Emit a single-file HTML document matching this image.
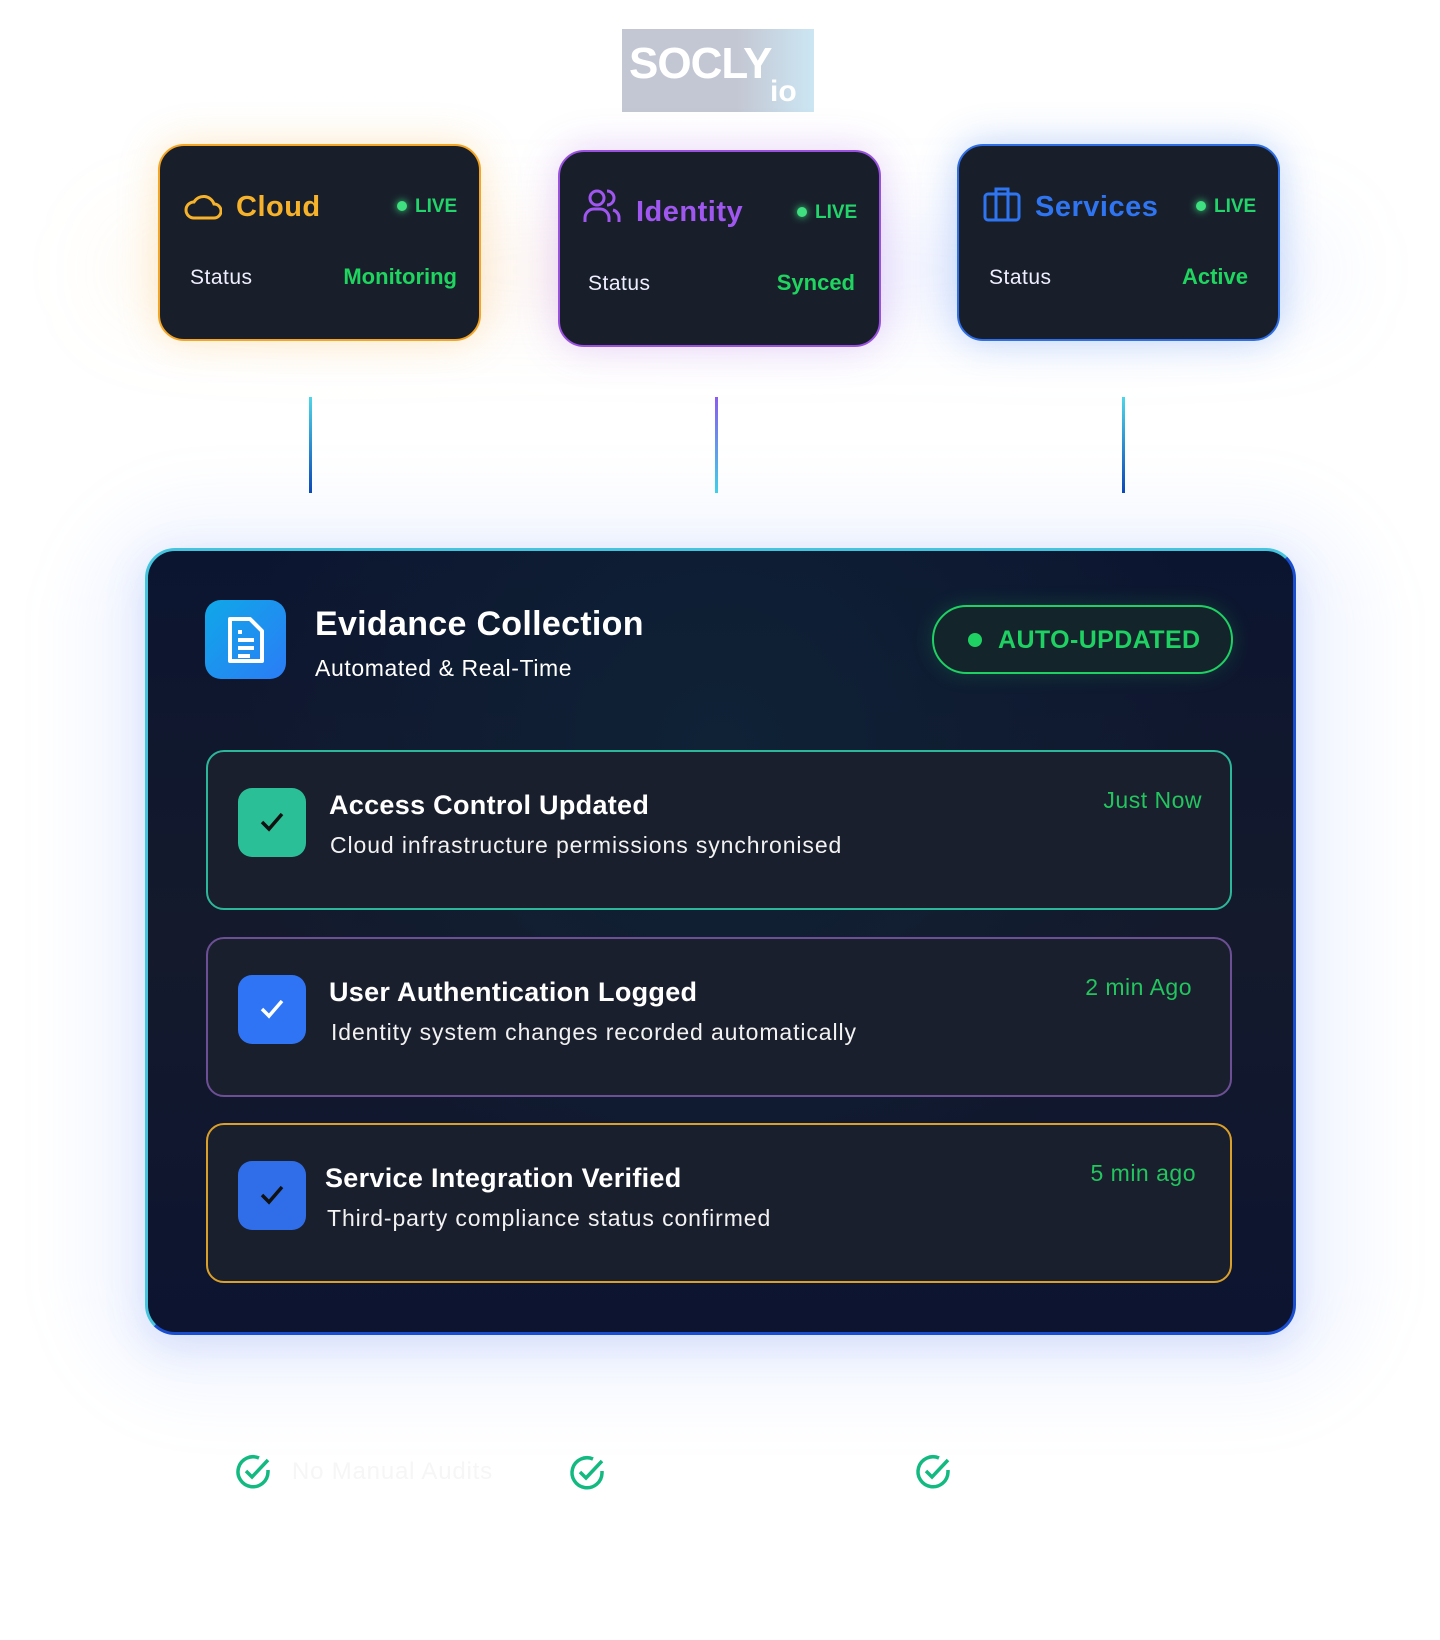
<!DOCTYPE html>
<html><head><meta charset="utf-8"><style>
*{margin:0;padding:0;box-sizing:border-box}
body{width:1440px;height:1640px;background:#fff;position:relative;overflow:hidden;font-family:"Liberation Sans",sans-serif}
.a{position:absolute}
.card{position:absolute;width:323px;height:197px;background:#181f2b;border:2px solid;border-radius:26px}
.t{position:absolute;white-space:nowrap;line-height:1}
.live{font-size:19px;font-weight:bold;color:#22d46a}
.dot{position:absolute;width:10px;height:10px;border-radius:50%;background:#3ee07f;box-shadow:0 0 8px #3ee07f}
.st{font-size:21px;color:#eef;letter-spacing:.5px}
.sv{font-size:22px;font-weight:bold;color:#1fd45f}
.row{position:absolute;left:206px;width:1026px;height:160px;border:2px solid;border-radius:18px;background:#1a1f2d}
.cb{position:absolute;width:68px;height:69px;border-radius:14px;left:30px}
.rt{font-size:27px;font-weight:bold;color:#fff;letter-spacing:.3px}
.rd{font-size:23px;color:#f2f2f2;letter-spacing:.9px}
.tm{font-size:23px;color:#22c55e;letter-spacing:.5px}
</style></head><body>
<div class="a" style="left:100px;top:110px;width:1240px;height:320px;border-radius:160px;filter:blur(40px);background:radial-gradient(ellipse at 20% 50%,rgba(255,190,100,.14),transparent 35%),radial-gradient(ellipse at 50% 50%,rgba(190,140,255,.12),transparent 35%),radial-gradient(ellipse at 80% 50%,rgba(120,160,255,.16),transparent 35%)"></div>
<div class="a" style="left:80px;top:500px;width:1290px;height:900px;border-radius:120px;background:rgba(120,150,255,.08);filter:blur(30px)"></div>
<div class="a" style="left:622px;top:29px;width:192px;height:83px;background:linear-gradient(90deg,#c3c7d3 60%,#cce6f3)"></div>
<div class="t" style="left:629px;top:42px;font-size:44px;color:#fff;font-weight:bold;letter-spacing:-1px">SOCLY</div>
<div class="t" style="left:770px;top:77px;font-size:30px;color:#fff;font-weight:bold">io</div>

<!-- Cloud -->
<div class="card" style="left:158px;top:144px;border-color:#f5a524;box-shadow:0 0 40px rgba(245,165,36,.25)">
<svg class="a" style="left:24px;top:45px" width="38" height="30" viewBox="0 0 38 30"><path d="M10 27h20a7 7 0 0 0 0-14 11 11 0 0 0-20-2 8 8 0 0 0 0 16z" fill="none" stroke="#f5b22a" stroke-width="3"/></svg>
<div class="t" style="left:76px;top:47px;font-size:29px;font-weight:bold;color:#f5b22a;letter-spacing:.5px">Cloud</div>
<div class="dot" style="left:237px;top:55px"></div><div class="t live" style="left:255px;top:51px">LIVE</div>
<div class="t st" style="left:30px;top:121px">Status</div>
<div class="t sv" style="right:22px;top:120px">Monitoring</div>
</div>
<!-- Identity -->
<div class="card" style="left:558px;top:150px;border-color:#9b51e0;box-shadow:0 0 40px rgba(155,81,224,.25)">
<svg class="a" style="left:22px;top:36px" width="40" height="36" viewBox="0 0 40 36"><circle cx="15" cy="10" r="7" fill="none" stroke="#a057f0" stroke-width="3"/><path d="M3 34v-4a9 9 0 0 1 9-9h6a9 9 0 0 1 9 9v4M25 3a7 7 0 0 1 0 14M31 22a8 8 0 0 1 6 8v4" fill="none" stroke="#a057f0" stroke-width="3"/></svg>
<div class="t" style="left:76px;top:46px;font-size:29px;font-weight:bold;color:#a057f0;letter-spacing:.5px">Identity</div>
<div class="dot" style="left:237px;top:55px"></div><div class="t live" style="left:255px;top:51px">LIVE</div>
<div class="t st" style="left:28px;top:121px">Status</div>
<div class="t sv" style="right:24px;top:120px">Synced</div>
</div>
<!-- Services -->
<div class="card" style="left:957px;top:144px;border-color:#2f6fe8;box-shadow:0 0 40px rgba(47,111,232,.3)">
<svg class="a" style="left:24px;top:40px" width="38" height="36" viewBox="0 0 38 36"><rect x="2" y="8" width="34" height="26" rx="3" fill="none" stroke="#2f74f0" stroke-width="3"/><path d="M13 8V3h12v5M13 8v26M25 8v26" fill="none" stroke="#2f74f0" stroke-width="3"/></svg>
<div class="t" style="left:76px;top:47px;font-size:29px;font-weight:bold;color:#2f74f0;letter-spacing:.5px">Services</div>
<div class="dot" style="left:237px;top:55px"></div><div class="t live" style="left:255px;top:51px">LIVE</div>
<div class="t st" style="left:30px;top:121px">Status</div>
<div class="t sv" style="right:30px;top:120px">Active</div>
</div>

<div class="a" style="left:309px;top:397px;width:3px;height:96px;background:linear-gradient(#4dd6e8,#0b48b8)"></div>
<div class="a" style="left:715px;top:397px;width:3px;height:96px;background:linear-gradient(#8a5cf0,#3fd0e8)"></div>
<div class="a" style="left:1122px;top:397px;width:3px;height:96px;background:linear-gradient(#4dd6e8,#0b48b8)"></div>

<!-- Main -->
<div class="a" style="left:145px;top:548px;width:1151px;height:787px;border-radius:30px;border:3px solid;border-color:#45c4de #1a4ed0 #1a4ed0 #45c4de;background:radial-gradient(ellipse at 50% 25%,#0f2236,transparent 60%),linear-gradient(#0c1530,#141a2c 50%,#0c1430);box-shadow:0 10px 40px rgba(70,110,230,.2)"></div>
<div class="a" style="left:205px;top:600px;width:81px;height:79px;border-radius:16px;background:linear-gradient(135deg,#0fa8e8,#2b7cf6)"></div>
<svg class="a" style="left:225px;top:616px" width="42" height="48" viewBox="0 0 42 48"><path d="M5 3h20l12 12v30H5z" fill="none" stroke="#fff" stroke-width="4" stroke-linejoin="round"/><path d="M13 24h16M13 32h16M13 40h12M13 16h4" stroke="#fff" stroke-width="4"/></svg>
<div class="t" style="left:315px;top:607px;font-size:34px;font-weight:bold;color:#fff;letter-spacing:.3px">Evidance Collection</div>
<div class="t" style="left:315px;top:657px;font-size:23px;color:#fff;letter-spacing:.6px">Automated &amp; Real-Time</div>
<div class="a" style="left:932px;top:605px;width:301px;height:69px;border:2px solid #1fd062;border-radius:35px;background:#13242a;box-shadow:0 0 20px rgba(31,208,98,.2)"></div>
<div class="dot" style="left:968px;top:633px;width:14px;height:14px;box-shadow:none;background:#1fd062"></div>
<div class="t" style="left:998px;top:628px;font-size:25px;font-weight:bold;color:#1fd062;letter-spacing:.4px">AUTO-UPDATED</div>

<div class="row" style="top:750px;border-color:#2cb79a">
<div class="cb" style="top:36px;background:#2bbf98"></div>
<svg class="a" style="left:50px;top:58px" width="28" height="24"><path d="M4 12l7 7 13-15" fill="none" stroke="#111" stroke-width="3.5"/></svg>
<div class="t rt" style="left:121px;top:40px">Access Control Updated</div>
<div class="t rd" style="left:122px;top:82px">Cloud infrastructure permissions synchronised</div>
<div class="t tm" style="right:28px;top:37px">Just Now</div>
</div>
<div class="row" style="top:937px;border-color:#6c4f95">
<div class="cb" style="top:36px;background:#2f74f5"></div>
<svg class="a" style="left:50px;top:58px" width="28" height="24"><path d="M4 12l7 7 13-15" fill="none" stroke="#fff" stroke-width="3.5"/></svg>
<div class="t rt" style="left:121px;top:40px">User Authentication Logged</div>
<div class="t rd" style="left:123px;top:82px">Identity system changes recorded automatically</div>
<div class="t tm" style="right:38px;top:37px">2 min Ago</div>
</div>
<div class="row" style="top:1123px;border-color:#dba02a">
<div class="cb" style="top:36px;background:#2f6ee8"></div>
<svg class="a" style="left:50px;top:58px" width="28" height="24"><path d="M4 12l7 7 13-15" fill="none" stroke="#111" stroke-width="3.5"/></svg>
<div class="t rt" style="left:117px;top:40px">Service Integration Verified</div>
<div class="t rd" style="left:119px;top:82px">Third-party compliance status confirmed</div>
<div class="t tm" style="right:34px;top:37px">5 min ago</div>
</div>

<svg class="a" style="left:234px;top:1453px" width="38" height="38" viewBox="0 0 38 38"><path d="M34 17v2a15 15 0 1 1-9-14" fill="none" stroke="#12b981" stroke-width="3.5"/><path d="M12 18l6 6 16-17" fill="none" stroke="#12b981" stroke-width="3.5"/></svg>
<div class="t" style="left:292px;top:1460px;font-size:24px;color:#f6f6f6;letter-spacing:.8px">No Manual Audits</div>
<svg class="a" style="left:568px;top:1454px" width="38" height="38" viewBox="0 0 38 38"><path d="M34 17v2a15 15 0 1 1-9-14" fill="none" stroke="#12b981" stroke-width="3.5"/><path d="M12 18l6 6 16-17" fill="none" stroke="#12b981" stroke-width="3.5"/></svg>
<svg class="a" style="left:914px;top:1453px" width="38" height="38" viewBox="0 0 38 38"><path d="M34 17v2a15 15 0 1 1-9-14" fill="none" stroke="#12b981" stroke-width="3.5"/><path d="M12 18l6 6 16-17" fill="none" stroke="#12b981" stroke-width="3.5"/></svg>
</body></html>
